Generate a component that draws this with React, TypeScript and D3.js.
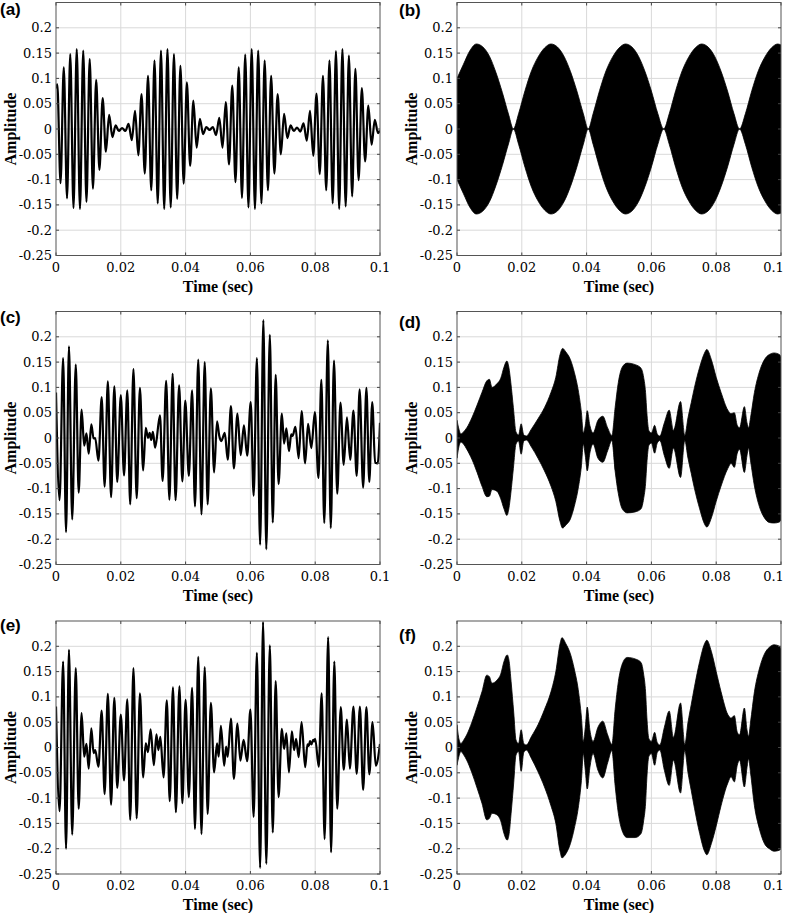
import React from "react";
import * as d3 from "d3";

// axes
const xTicks = [0, 0.02, 0.04, 0.06, 0.08, 0.1];
const xTickLabels = ["0", "0.02", "0.04", "0.06", "0.08", "0.1"];
const yTicks = [-0.25, -0.2, -0.15, -0.1, -0.05, 0, 0.05, 0.1, 0.15, 0.2];
const yTickLabels = ["-0.25", "-0.2", "-0.15", "-0.1", "-0.05", "0", "0.05", "0.1", "0.15", "0.2"];
const gridX = [0.02, 0.04, 0.06, 0.08];
const gridY = [-0.2, -0.15, -0.1, -0.05, 0, 0.05, 0.1, 0.15, 0.2];

// (a) time signal, extrema [t, amplitude]
const waveA: [number, number][] = [
  [0, 0.08], [0.0004, 0.088], [0.0014, -0.107], [0.0024, 0.122], [0.0034, -0.137], [0.0044, 0.148],
  [0.0054, -0.156], [0.0064, 0.158], [0.0074, -0.158], [0.0084, 0.155], [0.0094, -0.144], [0.0104, 0.138],
  [0.0114, -0.118], [0.0124, 0.097], [0.0134, -0.081], [0.0144, 0.061], [0.0154, -0.045], [0.0164, 0.028],
  [0.0174, -0.016], [0.0184, 0.007], [0.0194, -0.004], [0.0204, 0.002], [0.0214, -0.004], [0.0224, 0.01],
  [0.0234, -0.022], [0.0244, 0.036], [0.0254, -0.052], [0.0264, 0.069], [0.0274, -0.088], [0.0284, 0.105],
  [0.0294, -0.121], [0.0304, 0.135], [0.0314, -0.147], [0.0324, 0.155], [0.0334, -0.158], [0.0344, 0.158],
  [0.0354, -0.155], [0.0364, 0.148], [0.0374, -0.138], [0.0384, 0.125], [0.0394, -0.108], [0.0404, 0.092],
  [0.0414, -0.073], [0.0424, 0.056], [0.0434, -0.037], [0.0444, 0.02], [0.0454, -0.01], [0.0464, 0.004],
  [0.0474, -0.002], [0.0484, 0.004], [0.0494, -0.012], [0.0504, 0.022], [0.0514, -0.037], [0.0524, 0.053],
  [0.0534, -0.07], [0.0544, 0.086], [0.0554, -0.105], [0.0564, 0.122], [0.0574, -0.136], [0.0584, 0.147],
  [0.0594, -0.155], [0.0604, 0.158], [0.0614, -0.158], [0.0624, 0.155], [0.0634, -0.147], [0.0644, 0.135],
  [0.0654, -0.121], [0.0664, 0.105], [0.0674, -0.088], [0.0684, 0.069], [0.0694, -0.05], [0.0704, 0.03],
  [0.0714, -0.018], [0.0724, 0.007], [0.0734, -0.004], [0.0744, 0.003], [0.0754, -0.005], [0.0764, 0.011],
  [0.0774, -0.023], [0.0784, 0.036], [0.0794, -0.053], [0.0804, 0.07], [0.0814, -0.089], [0.0824, 0.105],
  [0.0834, -0.121], [0.0844, 0.135], [0.0854, -0.147], [0.0864, 0.154], [0.0874, -0.158], [0.0884, 0.158],
  [0.0894, -0.153], [0.0904, 0.145], [0.0914, -0.133], [0.0924, 0.119], [0.0934, -0.101], [0.0944, 0.081],
  [0.0954, -0.064], [0.0964, 0.046], [0.0974, -0.031], [0.0984, 0.018], [0.0994, -0.008], [0.1, -0.003],
];

// (c)
const waveC: [number, number][] = [
  [0, 0.09], [0.0011, -0.123], [0.0022, 0.158], [0.0031, -0.186], [0.004, 0.181], [0.005, -0.161],
  [0.0061, 0.145], [0.007, -0.108], [0.0079, 0.056], [0.0087, -0.015], [0.0094, 0.009], [0.0101, -0.031],
  [0.0109, 0.027], [0.0116, -0.001], [0.0121, 0.0], [0.0131, -0.045], [0.0141, 0.081], [0.015, -0.096],
  [0.016, 0.112], [0.017, -0.117], [0.018, 0.102], [0.0189, -0.087], [0.02, 0.085], [0.021, -0.074],
  [0.022, 0.094], [0.0229, -0.131], [0.0239, 0.136], [0.0249, -0.119], [0.0259, 0.099], [0.0269, -0.064],
  [0.0277, 0.02], [0.0284, 0.0], [0.0289, 0.01], [0.0294, -0.004], [0.0299, 0.012], [0.0306, -0.019],
  [0.0321, 0.045], [0.0329, -0.085], [0.034, 0.113], [0.035, -0.122], [0.036, 0.127], [0.0369, -0.123],
  [0.038, 0.104], [0.039, -0.086], [0.0399, 0.074], [0.041, -0.075], [0.042, 0.094], [0.0429, -0.135],
  [0.0439, 0.155], [0.0449, -0.151], [0.0459, 0.15], [0.0468, -0.131], [0.0478, 0.098], [0.0488, -0.068],
  [0.0497, 0.033], [0.0504, 0.004], [0.051, -0.006], [0.0521, 0.01], [0.053, -0.043], [0.054, 0.063],
  [0.0549, -0.06], [0.056, 0.048], [0.057, -0.034], [0.058, 0.025], [0.059, -0.035], [0.0601, 0.071],
  [0.061, -0.114], [0.062, 0.158], [0.063, -0.211], [0.064, 0.233], [0.0649, -0.22], [0.066, 0.204],
  [0.0669, -0.167], [0.0678, 0.125], [0.0687, -0.091], [0.0697, 0.048], [0.0704, -0.011], [0.0711, 0.019],
  [0.0719, -0.026], [0.0726, 0.007], [0.073, 0.004], [0.0739, 0.022], [0.0749, -0.04], [0.0758, 0.053],
  [0.0769, -0.05], [0.0778, 0.028], [0.0788, -0.02], [0.0799, 0.051], [0.081, -0.079], [0.0819, 0.115],
  [0.0828, -0.168], [0.0839, 0.193], [0.0848, -0.178], [0.0858, 0.153], [0.0868, -0.11], [0.0878, 0.07],
  [0.0888, -0.053], [0.0898, 0.041], [0.0908, -0.043], [0.0918, 0.054], [0.0928, -0.075], [0.0937, 0.096],
  [0.0948, -0.098], [0.0958, 0.099], [0.0967, -0.087], [0.0976, 0.071], [0.0985, -0.049], [0.0993, -0.05],
  [0.1, 0.03],
];

// (e)
const waveE: [number, number][] = [
  [0, 0.081], [0.0011, -0.126], [0.0022, 0.17], [0.0031, -0.2], [0.004, 0.193], [0.005, -0.172],
  [0.0061, 0.157], [0.007, -0.121], [0.0079, 0.068], [0.0087, -0.018], [0.0094, 0.007], [0.0101, -0.042],
  [0.0109, 0.038], [0.0116, -0.011], [0.0121, -0.005], [0.0131, -0.038], [0.0141, 0.073], [0.015, -0.092],
  [0.016, 0.106], [0.017, -0.113], [0.018, 0.098], [0.0189, -0.08], [0.02, 0.065], [0.021, -0.065],
  [0.022, 0.095], [0.0229, -0.143], [0.0239, 0.157], [0.0249, -0.14], [0.0259, 0.107], [0.0269, -0.059],
  [0.0277, 0.008], [0.0284, -0.009], [0.0292, 0.036], [0.0302, -0.035], [0.031, 0.026], [0.0316, -0.005],
  [0.0322, 0.021], [0.0332, -0.059], [0.0342, 0.093], [0.0351, -0.106], [0.0361, 0.119], [0.037, -0.128],
  [0.0381, 0.121], [0.039, -0.11], [0.04, 0.094], [0.041, -0.098], [0.042, 0.118], [0.0429, -0.161],
  [0.0439, 0.179], [0.0449, -0.171], [0.0459, 0.159], [0.0468, -0.131], [0.0478, 0.088], [0.0488, -0.049],
  [0.0497, 0.008], [0.0502, -0.018], [0.0509, 0.043], [0.0519, -0.036], [0.0525, 0.002], [0.053, -0.018],
  [0.054, 0.057], [0.0549, -0.062], [0.056, 0.047], [0.0569, -0.026], [0.0579, 0.015], [0.059, -0.027],
  [0.06, 0.075], [0.061, -0.137], [0.062, 0.187], [0.063, -0.238], [0.0639, 0.248], [0.0649, -0.23],
  [0.066, 0.202], [0.0669, -0.168], [0.0678, 0.131], [0.0687, -0.098], [0.0697, 0.037], [0.0704, -0.003],
  [0.0711, 0.028], [0.0719, -0.049], [0.0728, 0.032], [0.0735, -0.005], [0.0741, 0.017], [0.0749, -0.019],
  [0.0758, 0.05], [0.0769, -0.039], [0.0776, 0.006], [0.078, 0.003], [0.0784, 0.0125], [0.0788, 0.006],
  [0.0794, 0.015], [0.0797, 0.012], [0.08, 0.017], [0.0811, -0.038], [0.082, 0.107], [0.0829, -0.181],
  [0.084, 0.218], [0.0849, -0.207], [0.0859, 0.17], [0.0868, -0.121], [0.0879, 0.08], [0.0888, -0.044],
  [0.0898, 0.055], [0.0907, -0.042], [0.0918, 0.081], [0.0928, -0.052], [0.0938, 0.081], [0.0948, -0.084],
  [0.0958, 0.08], [0.0967, -0.053], [0.0977, 0.05], [0.0987, -0.036], [0.1, 0.007],
];

// (b) envelope of the dense signal [t, upper, lower]
const envB: [number, number, number][] = [
  [0, 0.1, -0.1], [0.002, 0.128, -0.128], [0.004, 0.155, -0.155], [0.006, 0.168, -0.168],
  [0.008, 0.162, -0.162], [0.01, 0.144, -0.144], [0.012, 0.112, -0.112], [0.014, 0.072, -0.072],
  [0.016, 0.027, -0.027], [0.0174, 0, 0], [0.019, 0.03, -0.03], [0.021, 0.076, -0.076],
  [0.023, 0.115, -0.115], [0.025, 0.142, -0.142], [0.027, 0.16, -0.16], [0.029, 0.168, -0.168],
  [0.031, 0.162, -0.162], [0.033, 0.144, -0.144], [0.035, 0.114, -0.114], [0.037, 0.075, -0.075],
  [0.039, 0.03, -0.03], [0.0405, 0, 0], [0.042, 0.03, -0.03], [0.044, 0.076, -0.076],
  [0.046, 0.115, -0.115], [0.048, 0.142, -0.142], [0.05, 0.16, -0.16], [0.052, 0.168, -0.168],
  [0.054, 0.162, -0.162], [0.056, 0.144, -0.144], [0.058, 0.114, -0.114], [0.06, 0.075, -0.075],
  [0.062, 0.03, -0.03], [0.0638, 0, 0], [0.0655, 0.03, -0.03], [0.0675, 0.076, -0.076],
  [0.0695, 0.115, -0.115], [0.0715, 0.142, -0.142], [0.0735, 0.16, -0.16], [0.0755, 0.168, -0.168],
  [0.0775, 0.162, -0.162], [0.0795, 0.144, -0.144], [0.0815, 0.114, -0.114], [0.0835, 0.075, -0.075],
  [0.0855, 0.03, -0.03], [0.0872, 0, 0], [0.089, 0.03, -0.03], [0.091, 0.076, -0.076],
  [0.093, 0.115, -0.115], [0.095, 0.142, -0.142], [0.097, 0.16, -0.16], [0.099, 0.168, -0.168],
  [0.1, 0.166, -0.166],
];

// (d)
const envD: [number, number, number][] = [
  [0, 0.035, -0.04], [0.0005, 0.02, -0.02], [0.0012, 0.008, -0.008], [0.002, 0.012, -0.012],
  [0.003, 0.02, -0.022], [0.0046, 0.04, -0.042], [0.0062, 0.065, -0.068], [0.0077, 0.09, -0.095],
  [0.0092, 0.113, -0.116], [0.01, 0.116, -0.115], [0.0108, 0.1, -0.102], [0.0123, 0.107, -0.105],
  [0.0135, 0.118, -0.12], [0.0145, 0.14, -0.14], [0.0154, 0.152, -0.153], [0.016, 0.14, -0.14],
  [0.0166, 0.11, -0.11], [0.0174, 0.06, -0.06], [0.0182, 0.012, -0.012], [0.019, 0.006, -0.006],
  [0.0198, 0.028, -0.032], [0.0206, 0.006, -0.006], [0.0214, 0.004, -0.004], [0.023, 0.018, -0.018],
  [0.025, 0.038, -0.04], [0.027, 0.06, -0.065], [0.029, 0.09, -0.095], [0.0305, 0.12, -0.125],
  [0.0318, 0.165, -0.165], [0.0326, 0.177, -0.178], [0.0336, 0.17, -0.172], [0.035, 0.155, -0.16],
  [0.0362, 0.13, -0.135], [0.0374, 0.095, -0.1], [0.0384, 0.05, -0.055], [0.039, 0.01, -0.012],
  [0.0396, 0.025, -0.035], [0.0402, 0.054, -0.065], [0.041, 0.025, -0.03], [0.042, 0.01, -0.012],
  [0.0435, 0.035, -0.04], [0.045, 0.043, -0.048], [0.0465, 0.02, -0.025], [0.0478, 0.005, -0.005],
  [0.0488, 0.06, -0.065], [0.0498, 0.11, -0.11], [0.051, 0.14, -0.14], [0.0525, 0.148, -0.148],
  [0.055, 0.145, -0.146], [0.0568, 0.138, -0.14], [0.0576, 0.12, -0.12], [0.0582, 0.09, -0.09],
  [0.0586, 0.05, -0.05], [0.0592, 0.015, -0.015], [0.06, 0.01, -0.01], [0.061, 0.025, -0.03],
  [0.0618, 0.008, -0.01], [0.0626, 0.004, -0.005], [0.064, 0.03, -0.035], [0.0655, 0.055, -0.06],
  [0.0668, 0.015, -0.02], [0.069, 0.072, -0.078], [0.0703, 0.005, -0.005], [0.0713, 0.04, -0.04],
  [0.0723, 0.07, -0.07], [0.0733, 0.1, -0.1], [0.0749, 0.14, -0.14], [0.0764, 0.168, -0.17],
  [0.0771, 0.175, -0.176], [0.0785, 0.155, -0.158], [0.08, 0.12, -0.125], [0.0815, 0.09, -0.095],
  [0.0836, 0.055, -0.06], [0.0846, 0.048, -0.05], [0.0856, 0.05, -0.058], [0.0865, 0.025, -0.03],
  [0.0872, 0.02, -0.022], [0.0887, 0.062, -0.068], [0.0895, 0.03, -0.035], [0.09, 0.02, -0.02],
  [0.0906, 0.04, -0.045], [0.0918, 0.09, -0.095], [0.0933, 0.13, -0.135], [0.0949, 0.155, -0.158],
  [0.0964, 0.165, -0.167], [0.0979, 0.168, -0.168], [0.0995, 0.165, -0.166], [0.1, 0.16, -0.162],
];

// (f)
const envF: [number, number, number][] = [
  [0, 0.045, -0.035], [0.0005, 0.02, -0.02], [0.0012, 0.008, -0.008], [0.002, 0.014, -0.014],
  [0.003, 0.025, -0.025], [0.0046, 0.05, -0.05], [0.0062, 0.08, -0.08], [0.0077, 0.11, -0.11],
  [0.0092, 0.143, -0.143], [0.01, 0.14, -0.14], [0.0108, 0.127, -0.13], [0.0123, 0.133, -0.133],
  [0.0135, 0.145, -0.145], [0.0145, 0.17, -0.17], [0.0155, 0.183, -0.183], [0.0161, 0.17, -0.17],
  [0.0167, 0.13, -0.13], [0.0175, 0.07, -0.07], [0.0182, 0.015, -0.015], [0.019, 0.008, -0.008],
  [0.0198, 0.035, -0.047], [0.0206, 0.008, -0.01], [0.0214, 0.005, -0.005], [0.023, 0.022, -0.022],
  [0.025, 0.045, -0.048], [0.027, 0.075, -0.078], [0.029, 0.11, -0.115], [0.0305, 0.15, -0.15],
  [0.0318, 0.205, -0.205], [0.0324, 0.217, -0.218], [0.0336, 0.205, -0.21], [0.035, 0.185, -0.19],
  [0.0362, 0.155, -0.16], [0.0374, 0.115, -0.12], [0.0384, 0.06, -0.065], [0.039, 0.012, -0.012],
  [0.0396, 0.04, -0.045], [0.0402, 0.08, -0.082], [0.041, 0.035, -0.04], [0.042, 0.012, -0.012],
  [0.0435, 0.04, -0.045], [0.045, 0.052, -0.06], [0.0465, 0.025, -0.03], [0.0478, 0.006, -0.006],
  [0.0488, 0.075, -0.075], [0.0498, 0.13, -0.13], [0.051, 0.165, -0.165], [0.0525, 0.178, -0.178],
  [0.055, 0.175, -0.178], [0.0568, 0.168, -0.17], [0.0576, 0.145, -0.145], [0.0582, 0.11, -0.11],
  [0.0586, 0.06, -0.06], [0.0592, 0.018, -0.018], [0.06, 0.012, -0.012], [0.061, 0.03, -0.035],
  [0.0618, 0.01, -0.01], [0.0626, 0.005, -0.005], [0.064, 0.04, -0.045], [0.0655, 0.072, -0.075],
  [0.0668, 0.02, -0.025], [0.069, 0.088, -0.09], [0.0703, 0.006, -0.006], [0.0713, 0.05, -0.05],
  [0.0723, 0.085, -0.085], [0.0733, 0.12, -0.12], [0.0749, 0.17, -0.17], [0.0764, 0.205, -0.205],
  [0.0771, 0.212, -0.212], [0.0785, 0.19, -0.19], [0.08, 0.15, -0.155], [0.0815, 0.11, -0.115],
  [0.0836, 0.065, -0.07], [0.0846, 0.058, -0.058], [0.0856, 0.063, -0.068], [0.0865, 0.03, -0.035],
  [0.0872, 0.025, -0.025], [0.0887, 0.078, -0.078], [0.0895, 0.035, -0.04], [0.09, 0.022, -0.022],
  [0.0906, 0.05, -0.05], [0.0918, 0.11, -0.115], [0.0933, 0.155, -0.16], [0.0949, 0.185, -0.19],
  [0.0964, 0.198, -0.2], [0.0979, 0.203, -0.205], [0.0995, 0.2, -0.203], [0.1, 0.195, -0.2],
];

const WIDTH = 787;
const HEIGHT = 913;
const PLOT_W = 324;
const PLOT_H = 253;
const TICK_FONT = "'DejaVu Serif', serif";
const TITLE_FONT = "'Liberation Serif', 'Times New Roman', serif";
const SANS = "'Liberation Sans', Arial, sans-serif";

type PanelProps = {
  id: string;
  x0: number;
  y0: number;
  label: string;
  labelX: number;
  labelY: number;
  wave?: [number, number][];
  env?: [number, number, number][];
};

const Panel = ({ id, x0, y0, label, labelX, labelY, wave, env }: PanelProps) => {
  const xScale = d3.scaleLinear().domain([0, 0.1]).range([0, PLOT_W]);
  const yScale = d3.scaleLinear().domain([-0.25, 0.25]).range([PLOT_H, 0]);

  const lineBuilder = d3
    .line<[number, number]>()
    .x((d) => xScale(d[0]))
    .y((d) => yScale(d[1]))
    .curve(d3.curveMonotoneX);

  const areaBuilder = d3
    .area<[number, number, number]>()
    .x((d) => xScale(d[0]))
    .y0((d) => yScale(d[2]))
    .y1((d) => yScale(d[1]))
    .curve(d3.curveMonotoneX);

  // keep the last x label inside the page (the reference shows it right at the edge)
  const xLabelPos = (t: number, text: string) => {
    const half = (text.length * 8.3) / 2;
    return Math.min(xScale(t), WIDTH - 1 - x0 - half);
  };

  return (
    <g>
      <text x={labelX} y={labelY} fontFamily={SANS} fontWeight="bold" fontSize={17}>
        {label}
      </text>
      <g transform={`translate(${x0},${y0})`}>
        <defs>
          <clipPath id={`clip-${id}`}>
            <rect x={0} y={0} width={PLOT_W} height={PLOT_H} />
          </clipPath>
        </defs>
        <rect x={0} y={0} width={PLOT_W} height={PLOT_H} fill="#fff" />
        {/* grid */}
        {gridX.map((t) => (
          <line key={"gx" + t} x1={xScale(t)} x2={xScale(t)} y1={0} y2={PLOT_H} stroke="#d9d9d9" strokeWidth={1} />
        ))}
        {gridY.map((v) => (
          <line key={"gy" + v} x1={0} x2={PLOT_W} y1={yScale(v)} y2={yScale(v)} stroke="#d9d9d9" strokeWidth={1} />
        ))}
        <g clipPath={`url(#clip-${id})`}>
          {env && <path d={areaBuilder(env) || ""} fill="#000" stroke="#000" strokeWidth={0.8} />}
          {wave && <path d={lineBuilder(wave) || ""} fill="none" stroke="#000" strokeWidth={2.2} strokeLinejoin="round" />}
        </g>
        {/* inward ticks */}
        {xTicks.map((t) => (
          <g key={"xt" + t}>
            <line x1={xScale(t)} x2={xScale(t)} y1={PLOT_H} y2={PLOT_H - 3} stroke="#444" />
            <line x1={xScale(t)} x2={xScale(t)} y1={0} y2={3} stroke="#444" />
          </g>
        ))}
        {yTicks.map((v) => (
          <g key={"yt" + v}>
            <line x1={0} x2={3} y1={yScale(v)} y2={yScale(v)} stroke="#444" />
            <line x1={PLOT_W} x2={PLOT_W - 3} y1={yScale(v)} y2={yScale(v)} stroke="#444" />
          </g>
        ))}
        <rect x={0} y={0} width={PLOT_W} height={PLOT_H} fill="none" stroke="#555" strokeWidth={1} />
        {/* tick labels */}
        {xTicks.map((t, i) => (
          <text
            key={"xl" + t}
            x={xLabelPos(t, xTickLabels[i])}
            y={PLOT_H + 16}
            textAnchor="middle"
            fontFamily={TICK_FONT}
            fontSize={13}
          >
            {xTickLabels[i]}
          </text>
        ))}
        {yTicks.map((v, i) => (
          <text key={"yl" + v} x={-4} y={yScale(v)} dy="0.35em" textAnchor="end" fontFamily={TICK_FONT} fontSize={13}>
            {yTickLabels[i]}
          </text>
        ))}
        <text x={PLOT_W / 2} y={PLOT_H + 36} textAnchor="middle" fontFamily={TITLE_FONT} fontWeight="bold" fontSize={16}>
          Time (sec)
        </text>
        <text
          transform={`translate(${-46},${PLOT_H / 2}) rotate(-90)`}
          textAnchor="middle"
          dy="0.35em"
          fontFamily={TITLE_FONT}
          fontWeight="bold"
          fontSize={16}
        >
          Amplitude
        </text>
      </g>
    </g>
  );
};

export default function App() {
  const colX = [56, 457];
  const rowY = [2.5, 311.5, 621];

  return (
    <svg
      width={WIDTH}
      height={HEIGHT}
      style={{ position: "absolute", left: 0, top: 0, background: "#fff" }}
    >
      <Panel id="a" x0={colX[0]} y0={rowY[0]} label="(a)" labelX={0} labelY={15} wave={waveA} />
      <Panel id="b" x0={colX[1]} y0={rowY[0]} label="(b)" labelX={399} labelY={16} env={envB} />
      <Panel id="c" x0={colX[0]} y0={rowY[1]} label="(c)" labelX={0} labelY={323} wave={waveC} />
      <Panel id="d" x0={colX[1]} y0={rowY[1]} label="(d)" labelX={399} labelY={328} env={envD} />
      <Panel id="e" x0={colX[0]} y0={rowY[2]} label="(e)" labelX={0} labelY={631} wave={waveE} />
      <Panel id="f" x0={colX[1]} y0={rowY[2]} label="(f)" labelX={399} labelY={641} env={envF} />
    </svg>
  );
}
